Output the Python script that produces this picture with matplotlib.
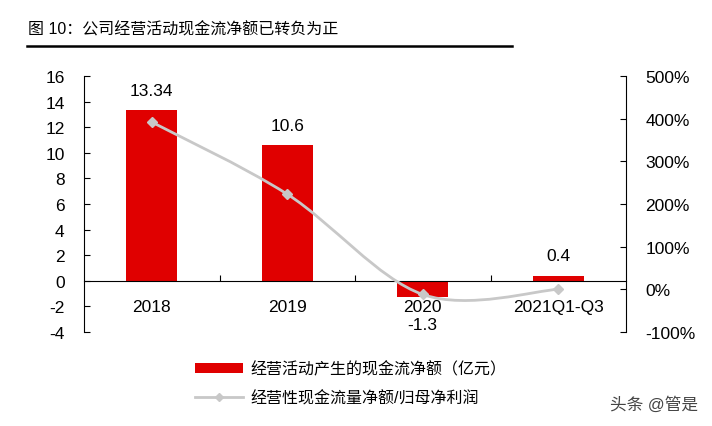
import numpy as np
import matplotlib
matplotlib.use("Agg")
import matplotlib.pyplot as plt
from matplotlib.path import Path
from matplotlib.patches import PathPatch, Patch
from matplotlib.lines import Line2D

plt.rcParams['font.family'] = ['Liberation Sans', 'Noto Sans CJK SC']
plt.rcParams['axes.unicode_minus'] = False

categories = ['2018', '2019', '2020', '2021Q1-Q3']
cash_flow = [13.34, 10.6, -1.3, 0.4]          # 亿元
cash_ratio = [392, 223, -12, 0]               # %
bar_name = '经营活动产生的现金流净额（亿元）'
line_name = '经营性现金流量净额/归母净利润'
title = '图 10：公司经营活动现金流净额已转负为正'

red = '#E00000'
grey = '#C8C8C8'

fig = plt.figure(figsize=(7.12, 4.27), dpi=100)
ax = fig.add_axes([84 / 712, 1 - 333 / 427, 542 / 712, 256 / 427])
ax2 = ax.twinx()

x = np.arange(len(categories))
ax.bar(x, cash_flow, width=0.38, color=red, zorder=2)
ax.set_xlim(-0.5, len(categories) - 0.5)
ax.set_ylim(-4, 16)
ax.set_yticks(np.arange(-4, 17, 2))

# value labels
for xi, v in zip(x, cash_flow):
    if v >= 0:
        ax.annotate(f'{v:g}', (xi, v), xytext=(0, 9), textcoords='offset points',
                    ha='center', va='bottom', fontsize=12.5)
    else:
        ax.annotate(f'{v:g}', (xi, v), xytext=(0, -14), textcoords='offset points',
                    ha='center', va='top', fontsize=12.5)

# category axis sits on zero
ax.spines['bottom'].set_position(('data', 0))
ax.spines['top'].set_visible(False)
ax.spines['right'].set_visible(False)
ax.set_xticks(x)
ax.set_xticklabels(categories, fontsize=12.5)
ax.set_xticks(x[:-1] + 0.5, minor=True)
ax.tick_params(axis='x', which='major', length=0, pad=13)
ax.tick_params(axis='x', which='minor', direction='in', length=4, width=0.8)
ax.tick_params(axis='y', direction='in', length=4, width=0.8, labelsize=12.5, pad=14)
for s in ['left', 'bottom']:
    ax.spines[s].set_linewidth(0.8)

# right axis, smoothed line (Catmull-Rom as cubic bezier)
ax2.set_ylim(-100, 500)
ax2.set_yticks(np.arange(-100, 501, 100))
ax2.set_yticklabels([f'{t}%' for t in range(-100, 501, 100)])
ax2.tick_params(axis='y', direction='in', length=4, width=0.8, labelsize=12.5, pad=14)
for s in ['left', 'bottom', 'top']:
    ax2.spines[s].set_visible(False)
ax2.spines['right'].set_linewidth(0.8)

pts = np.column_stack([x, cash_ratio]).astype(float)
ext = np.vstack([pts[0], pts, pts[-1]])
verts = [tuple(pts[0])]
codes = [Path.MOVETO]
for i in range(len(pts) - 1):
    p0, p1, p2, p3 = ext[i], ext[i + 1], ext[i + 2], ext[i + 3]
    c1 = p1 + (p2 - p0) / 6
    c2 = p2 - (p3 - p1) / 6
    verts += [tuple(c1), tuple(c2), tuple(p2)]
    codes += [Path.CURVE4] * 3
ax2.add_patch(PathPatch(Path(verts, codes), facecolor='none', edgecolor=grey, lw=2, zorder=3))
ax2.plot(x, cash_ratio, linestyle='none', marker='D', ms=5, color=grey, zorder=4)

# title and rule
fig.text(28 / 712, 1 - 30 / 427, title, fontsize=11.5, ha='left', va='center')
fig.add_artist(Line2D([27 / 712, 512 / 712], [1 - 47 / 427] * 2, color='black', lw=1.8))

handles = [Patch(facecolor=red, edgecolor='none'),
           Line2D([], [], color=grey, lw=2, marker='D', ms=4)]
fig.legend(handles, [bar_name, line_name], loc='upper left',
           bbox_to_anchor=(195 / 712, 1 - 362 / 427), frameon=False, fontsize=11.5,
           handlelength=3, handleheight=0.65, handletextpad=0.5, labelspacing=0.85,
           borderpad=0, borderaxespad=0)

fig.text(698 / 712, 1 - 405 / 427, '头条 @管是', fontsize=12, color='#444444',
         ha='right', va='center')

fig.savefig('out.png', dpi=100)
